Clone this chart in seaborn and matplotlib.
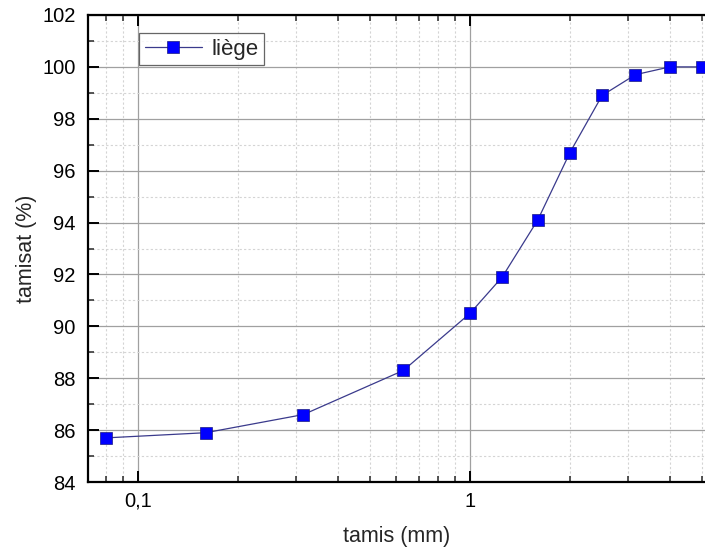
import matplotlib
matplotlib.use("Agg")
import matplotlib.pyplot as plt
import matplotlib.ticker as mticker
import seaborn as sns
import pandas as pd

tamis = [0.08, 0.16, 0.315, 0.63, 1.0, 1.25, 1.6, 2.0, 2.5, 3.15, 4.0, 5.0]
tamisat = [85.7, 85.9, 86.6, 88.3, 90.5, 91.9, 94.1, 96.7, 98.9, 99.7, 100.0, 100.0]
series_name = "liège"

df = pd.DataFrame({"tamis": tamis, "tamisat": tamisat, "serie": series_name})

sns.set_style("white")
plt.rcParams["font.family"] = ["Liberation Sans", "DejaVu Sans"]

fig = plt.figure(figsize=(7.05, 5.5), dpi=100)
ax = fig.add_axes([88 / 705, 1 - 482 / 550, 1 - 88 / 705, (482 - 15) / 550])

sns.lineplot(data=df, x="tamis", y="tamisat", hue="serie", palette=["#3a3a8c"],
             marker="s", markersize=8.2, markerfacecolor="#0000ff",
             markeredgecolor="#1a1a80", markeredgewidth=0.5, linewidth=0.9,
             ax=ax, legend=True)

ax.set_xscale("log")
ax.set_xlim(0.07068, 5.103)
ax.set_ylim(84, 102)
ax.yaxis.set_major_locator(mticker.MultipleLocator(2))
ax.yaxis.set_minor_locator(mticker.MultipleLocator(1))
ax.xaxis.set_major_locator(mticker.FixedLocator([0.1, 1]))
ax.xaxis.set_major_formatter(mticker.FixedFormatter(["0,1", "1"]))
ax.xaxis.set_minor_locator(mticker.LogLocator(base=10, subs=range(2, 10)))
ax.xaxis.set_minor_formatter(mticker.NullFormatter())

ax.grid(which="major", color="#a0a0a0", linewidth=0.9, linestyle="-")
ax.grid(which="minor", color="#d4d4d4", linewidth=0.8, linestyle=(0, (2, 2)))
ax.set_axisbelow(True)

for s in ["left", "bottom", "top"]:
    ax.spines[s].set_color("black")
    ax.spines[s].set_linewidth(1.6)
ax.spines["right"].set_visible(False)

ax.tick_params(which="major", direction="in", length=8, width=1.4, top=True,
               bottom=True, left=True, right=False, labelsize=14.5, colors="black")
ax.tick_params(which="minor", direction="in", length=4, width=1.1, top=True,
               bottom=True, left=True, right=False)
ax.tick_params(axis="x", which="major", pad=7)
ax.tick_params(axis="y", which="major", pad=9)

ax.set_xlabel("tamis (mm)", fontsize=15.5, labelpad=11)
ax.set_ylabel("tamisat (%)", fontsize=15.5, labelpad=4)

handles, labels = ax.get_legend_handles_labels()
leg = ax.legend(handles, labels, loc="upper left", bbox_to_anchor=(0.0827, 0.961),
                fontsize=16, frameon=True, fancybox=False, handlelength=2.6,
                borderpad=0.25, handletextpad=0.4, borderaxespad=0)
leg.get_frame().set_edgecolor("#404040")
leg.get_frame().set_linewidth(0.9)

fig.savefig("out.png", dpi=100)
